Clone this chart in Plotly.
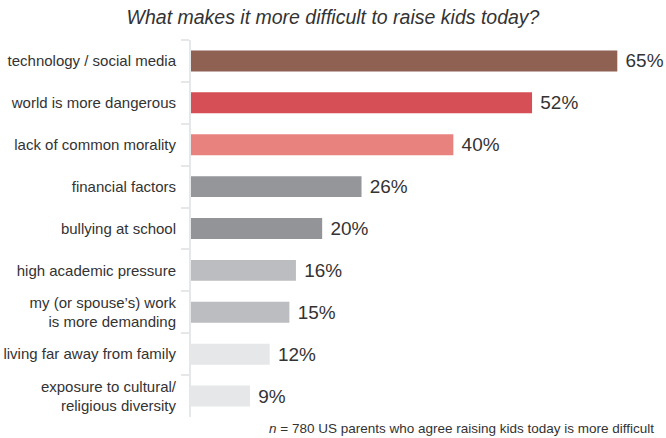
import plotly.graph_objects as go

categories = [
    "technology / social media",
    "world is more dangerous",
    "lack of common morality",
    "financial factors",
    "bullying at school",
    "high academic pressure",
    "my (or spouse’s) work<br>is more demanding",
    "living far away from family",
    "exposure to cultural/<br>religious diversity",
]
values = [65, 52, 40, 26, 20, 16, 15, 12, 9]
value_labels = ["65%", "52%", "40%", "26%", "20%", "16%", "15%", "12%", "9%"]
colors = ["#8E6153", "#D64F56", "#E8827F", "#959699", "#939498",
          "#BCBDC0", "#BCBDC0", "#E6E7E8", "#E6E7E8"]

fig = go.Figure(go.Bar(
    x=values, y=categories, orientation="h",
    marker=dict(color=colors, line=dict(width=0)),
    text=[" " + v for v in value_labels], textposition="outside",
    textfont=dict(size=19, color="#333333", family="Liberation Sans, Arial, sans-serif"),
    cliponaxis=False, width=0.5, hoverinfo="skip",
))

fig.update_layout(
    width=666, height=438,
    margin=dict(l=191, r=10, t=40, b=21, autoexpand=False),
    paper_bgcolor="white", plot_bgcolor="white",
    showlegend=False,
    font=dict(family="Liberation Sans, Arial, sans-serif", color="#333333"),
    title=dict(text="<i>What makes it more difficult to raise kids today?</i>",
               x=0.5, xanchor="center", y=0.96, yanchor="middle",
               font=dict(size=19.5, color="#333333")),
    xaxis=dict(range=[0, 70.9], visible=False, fixedrange=True),
    yaxis=dict(autorange="reversed", type="category", tickson="boundaries",
               ticks="outside", ticklen=8, tickwidth=2, tickcolor="#E6E7E8",
               showline=True, linecolor="#E6E7E8", linewidth=2,
               showgrid=False, zeroline=False, fixedrange=True,
               tickfont=dict(size=15, color="#333333"), ticklabelstandoff=10),
    annotations=[dict(
        text="<i>n</i> = 780 US parents who agree raising kids today is more difficult",
        xref="paper", yref="paper", x=1.0, y=-0.0, yshift=-11,
        xanchor="right", yanchor="middle", showarrow=False,
        font=dict(size=13.5, color="#333333"))],
)

fig.write_html("out.html", config={"displayModeBar": False},
               post_script="document.body.style.margin='0';")
